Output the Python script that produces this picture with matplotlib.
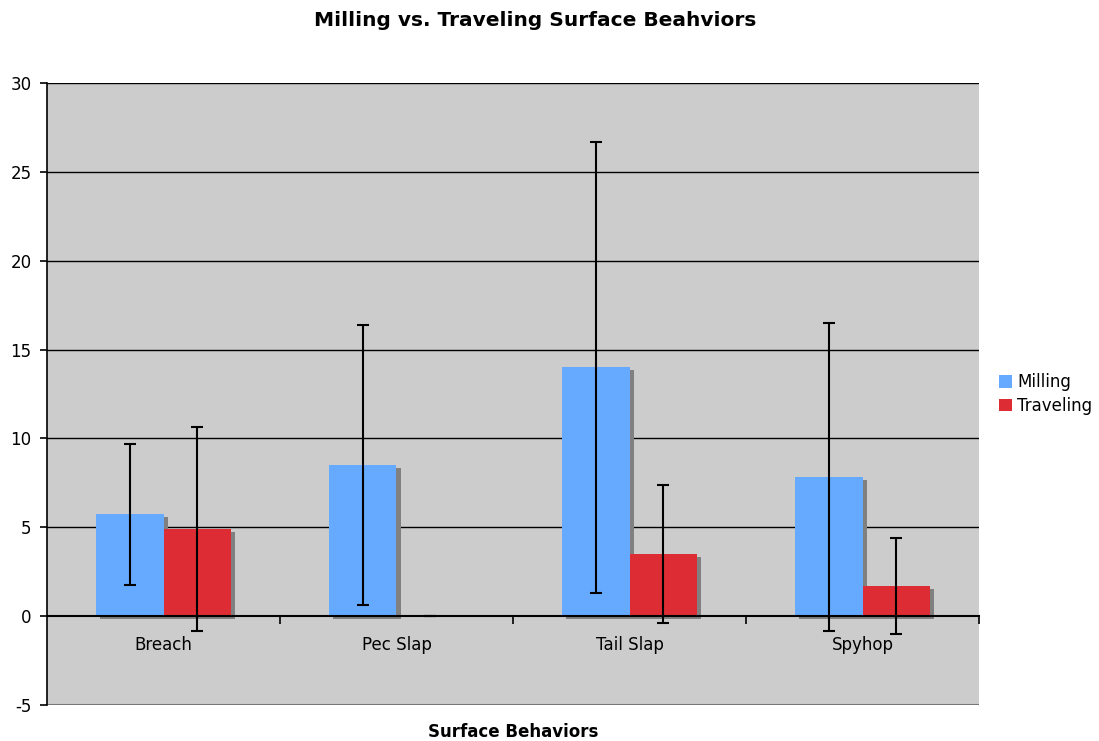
import matplotlib
matplotlib.use("Agg")
import matplotlib.pyplot as plt
import numpy as np

categories = ["Breach", "Pec Slap", "Tail Slap", "Spyhop"]
milling = [5.74, 8.5, 14.0, 7.82]
milling_err = [3.96, 7.87, 12.7, 8.66]
traveling = [4.9, 0.0, 3.49, 1.69]
traveling_err = [5.75, 0.0, 3.9, 2.68]
series_names = ["Milling", "Traveling"]
colors = ["#66AAFF", "#DD2C33"]

plt.rcParams['font.family'] = ['DejaVu Sans']

fig = plt.figure(figsize=(10.99, 7.41), dpi=100)
ax = fig.add_axes([47/1099, 36/741, 932/1099, 622/741])
ax.set_facecolor("#CCCCCC")

x = np.arange(len(categories))
w = 0.29
dx_sh = 4/233
dy_sh = 3/17.77

ax.set_xlim(-0.5, len(categories) - 0.5)
ax.set_ylim(-5, 30)

for yv in [5, 10, 15, 20, 25, 30]:
    ax.axhline(yv, color="black", lw=1.0, zorder=1)
ax.axhline(-5, color="#777777", lw=1.5, zorder=1)

series = [(milling, milling_err), (traveling, traveling_err)]
offsets = [-w/2, w/2]
for (vals, errs), off in zip(series, offsets):
    ax.bar(x + off + dx_sh, vals, width=w, bottom=-dy_sh, color="#808080", zorder=2, linewidth=0)
handles = []
for (vals, errs), off, c, nm in zip(series, offsets, colors, series_names):
    b = ax.bar(x + off, vals, width=w, color=c, zorder=3, linewidth=0, label=nm)
    handles.append(b)
for (vals, errs), off in zip(series, offsets):
    ax.errorbar(x + off, vals, yerr=errs, fmt="none", ecolor="black", elinewidth=1.5,
                capsize=4.5, capthick=1.5, zorder=7)

for s in ["top", "right"]:
    ax.spines[s].set_visible(False)
ax.spines["left"].set_color("black")
ax.spines["left"].set_linewidth(1.2)
ax.spines["left"].set_zorder(6)
ax.spines["bottom"].set_position(("data", 0))
ax.spines["bottom"].set_color("black")
ax.spines["bottom"].set_linewidth(1.5)
ax.spines["bottom"].set_zorder(6)

ax.set_xticks(x)
ax.set_xticklabels(categories, fontsize=12)
ax.set_xticks(np.arange(len(categories)) + 0.5, minor=True)
ax.tick_params(axis="x", which="major", length=0, pad=14)
ax.tick_params(axis="x", which="minor", length=6, width=1.2, direction="out", color="black")

ax.set_yticks(np.arange(-5, 31, 5))
ax.set_yticklabels([str(v) for v in range(-5, 31, 5)], fontsize=12)
ax.tick_params(axis="y", length=5, width=1.2, pad=6)

fig.text(535/1099, 1 - 20/741, "Milling vs. Traveling Surface Beahviors", ha="center", va="center",
         fontsize=14.5, fontweight="bold")
fig.text(513/1099, 1 - 732/741, "Surface Behaviors", ha="center", va="center",
         fontsize=12, fontweight="bold")

fig.legend(handles=handles, labels=series_names, loc="center left",
           bbox_to_anchor=(984/1099, 1 - 394/741), frameon=False, fontsize=12,
           handlelength=0.8, handleheight=0.8, handletextpad=0.3, labelspacing=0.35)

fig.savefig("out.png", dpi=100, facecolor="white")
